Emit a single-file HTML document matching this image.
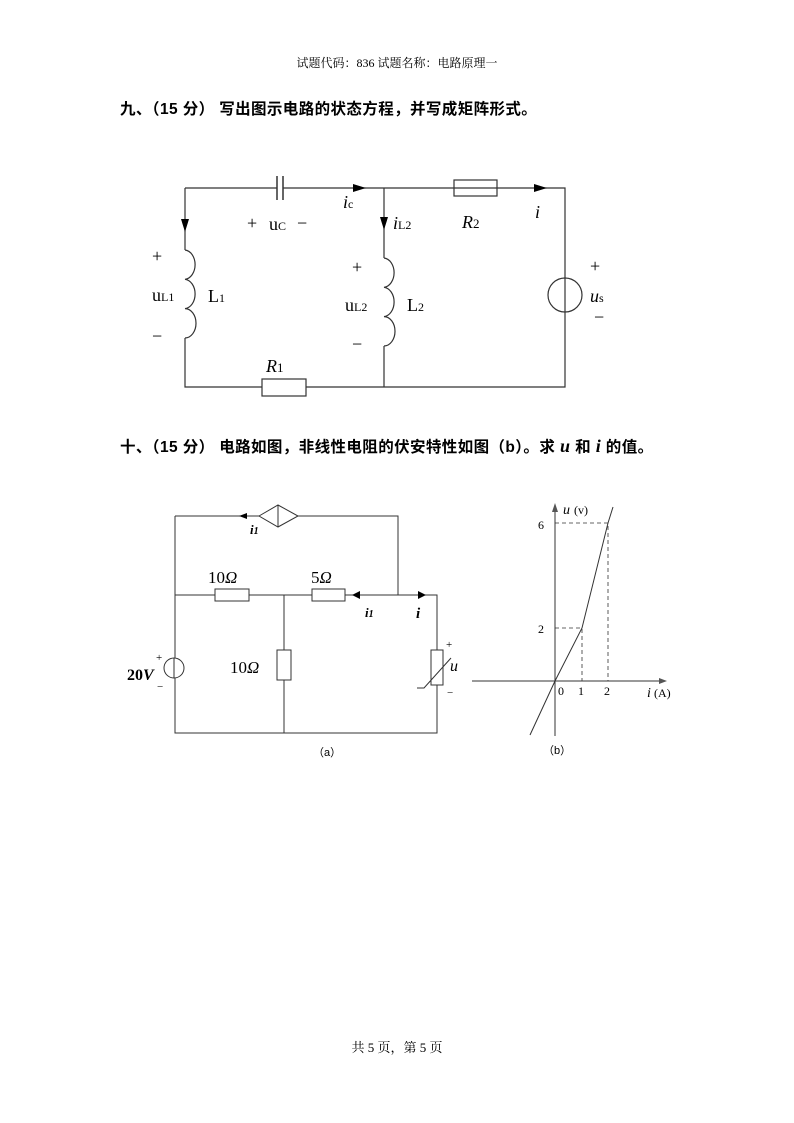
<!DOCTYPE html>
<html><head><meta charset="utf-8"><style>
body{margin:0;background:#fff;}
svg{display:block;}
text{font-family:"Liberation Serif","Noto Serif CJK SC",serif;fill:#000;}
.cj{font-family:"Liberation Sans","Noto Sans CJK SC",sans-serif;}
</style></head><body>
<svg width="794" height="1123" viewBox="0 0 794 1123" xmlns="http://www.w3.org/2000/svg">
<text x="397" y="67" font-size="12" text-anchor="middle" fill="#333" font-family="Liberation Serif, Noto Serif CJK SC, serif">试题代码：836 试题名称：电路原理一</text>
<text x="120" y="114" font-size="15.5" font-weight="bold" letter-spacing="0.4" class="cj">九、（15 分）  写出图示电路的状态方程，并写成矩阵形式。</text>

<g stroke="#333" stroke-width="1.2" fill="none">
<path d="M185,188 H277 M283,188 H565 V278 M565,312 V387 H306 M262,387 H185 V338 M185,250 V188 M384,188 V258 M384,346 V387"/>
<path d="M277,176 V200 M283,176 V200" stroke-width="1.5"/>
<circle cx="565" cy="295" r="17"/>
<line x1="565" y1="278" x2="565" y2="312"/>
<rect x="454" y="180" width="43" height="16"/>
<rect x="262" y="379" width="44" height="17"/>
<path d="M185,250 a11,14.7 0 0 1 0,29.3 a11,14.7 0 0 1 0,29.3 a11,14.7 0 0 1 0,29.4"/>
<path d="M384,258 a11,14.7 0 0 1 0,29.3 a11,14.7 0 0 1 0,29.3 a11,14.7 0 0 1 0,29.4"/>
</g>
<g fill="#000">
<path d="M353,184 L366,188 L353,192 Z"/>
<path d="M534,184 L547,188 L534,192 Z"/>
<path d="M181,219 L185,232 L189,219 Z"/>
<path d="M380,217 L384,230 L388,217 Z"/>
</g>
<g font-size="18">
<text x="247" y="229">+</text><text x="269" y="230">u<tspan font-size="12">C</tspan></text><text x="297" y="229">−</text>
<text x="343" y="208" font-style="italic">i<tspan font-size="12" font-style="normal">c</tspan></text>
<text x="393" y="229" font-style="italic">i<tspan font-size="12" font-style="normal">L2</tspan></text>
<text x="462" y="228" font-style="italic">R<tspan font-size="13" font-style="normal">2</tspan></text>
<text x="535" y="218" font-style="italic">i</text>
<text x="152" y="262">+</text>
<text x="152" y="301">u<tspan font-size="12">L1</tspan></text>
<text x="208" y="302">L<tspan font-size="12">1</tspan></text>
<text x="152" y="342">−</text>
<text x="352" y="273">+</text>
<text x="345" y="311">u<tspan font-size="12">L2</tspan></text>
<text x="407" y="311">L<tspan font-size="12">2</tspan></text>
<text x="352" y="350">−</text>
<text x="590" y="272">+</text>
<text x="590" y="302" font-style="italic">u<tspan font-size="12" font-style="normal">s</tspan></text>
<text x="594" y="323">−</text>
<text x="266" y="372" font-style="italic">R<tspan font-size="13" font-style="normal">1</tspan></text>
</g>

<text x="120" y="452" font-size="15.5" font-weight="bold" letter-spacing="0.4" class="cj">十、（15 分）  电路如图，非线性电阻的伏安特性如图（b）。求 <tspan font-style="italic" font-family="Liberation Serif" font-size="18">u</tspan> 和 <tspan font-style="italic" font-family="Liberation Serif" font-size="18">i</tspan> 的值。</text>

<g stroke="#333" stroke-width="1" fill="none">
<path d="M175,516 H259 M298,516 H398 V595 M175,516 V658 M175,678 V733 H437 V685 M437,650 V595 H345 M312,595 H249 M215,595 H175 M284,595 V650 M284,680 V733"/>
<path d="M259,516 L278,505 L298,516 L278,527 Z M278,505 V527"/>
<rect x="215" y="589" width="34" height="12"/>
<rect x="312" y="589" width="33" height="12"/>
<rect x="277" y="650" width="14" height="30"/>
<rect x="431" y="650" width="12" height="35"/>
<path d="M417,688 H424 L451,658"/>
<circle cx="174" cy="668" r="10"/>
<line x1="174" y1="658" x2="174" y2="678"/>
</g>
<g fill="#000">
<path d="M247,516 L239,513 L239,519 Z" transform="rotate(180 243 516)"/>
<path d="M352,595 L360,591 L360,599 Z"/>
<path d="M426,595 L418,591 L418,599 Z"/>
</g>
<g font-family="Liberation Serif">
<text x="250" y="534" font-size="13" font-weight="bold" font-style="italic">i<tspan font-size="10">1</tspan></text>
<text x="365" y="617" font-size="13" font-weight="bold" font-style="italic">i<tspan font-size="10">1</tspan></text>
<text x="416" y="618" font-size="15" font-weight="bold" font-style="italic">i</text>
<text x="208" y="583" font-size="17">10<tspan font-style="italic">Ω</tspan></text>
<text x="311" y="583" font-size="17">5<tspan font-style="italic">Ω</tspan></text>
<text x="230" y="673" font-size="17">10<tspan font-style="italic">Ω</tspan></text>
<text x="127" y="680" font-size="16" font-weight="bold">20<tspan font-style="italic">V</tspan></text>
<text x="156" y="661" font-size="11">+</text>
<text x="157" y="690" font-size="11">−</text>
<text x="446" y="648" font-size="11">+</text>
<text x="447" y="696" font-size="11">−</text>
<text x="450" y="671" font-size="16" font-style="italic">u</text>
<text x="313" y="756" font-size="11" class="cj">（a）</text>
</g>

<g stroke="#333" stroke-width="1" fill="none">
<path d="M555,736 V508 M472,681 H662"/>
<path d="M555,628 H582 V681 M555,523 H608 V681" stroke-dasharray="4,3" stroke-width="0.8"/>
<path d="M530,735 L555,681 L582,628 L608,523 L613,507"/>
</g>
<path d="M552,512 L555,503 L558,512 Z M659,678 L667,681 L659,684 Z" fill="#555"/>
<g font-size="12" font-family="Liberation Serif">
<text x="563" y="514" font-style="italic" font-size="14">u</text><text x="574" y="514">(v)</text>
<text x="538" y="529">6</text>
<text x="538" y="633">2</text>
<text x="558" y="695">0</text>
<text x="578" y="695">1</text>
<text x="604" y="695">2</text>
<text x="647" y="697" font-style="italic" font-size="14">i</text><text x="654" y="697">(A)</text>
<text x="543" y="754" class="cj" font-size="11">（b）</text>
</g>

<text x="397" y="1052" font-size="13" text-anchor="middle">共 5 页，第 5 页</text>
</svg>
</body></html>
